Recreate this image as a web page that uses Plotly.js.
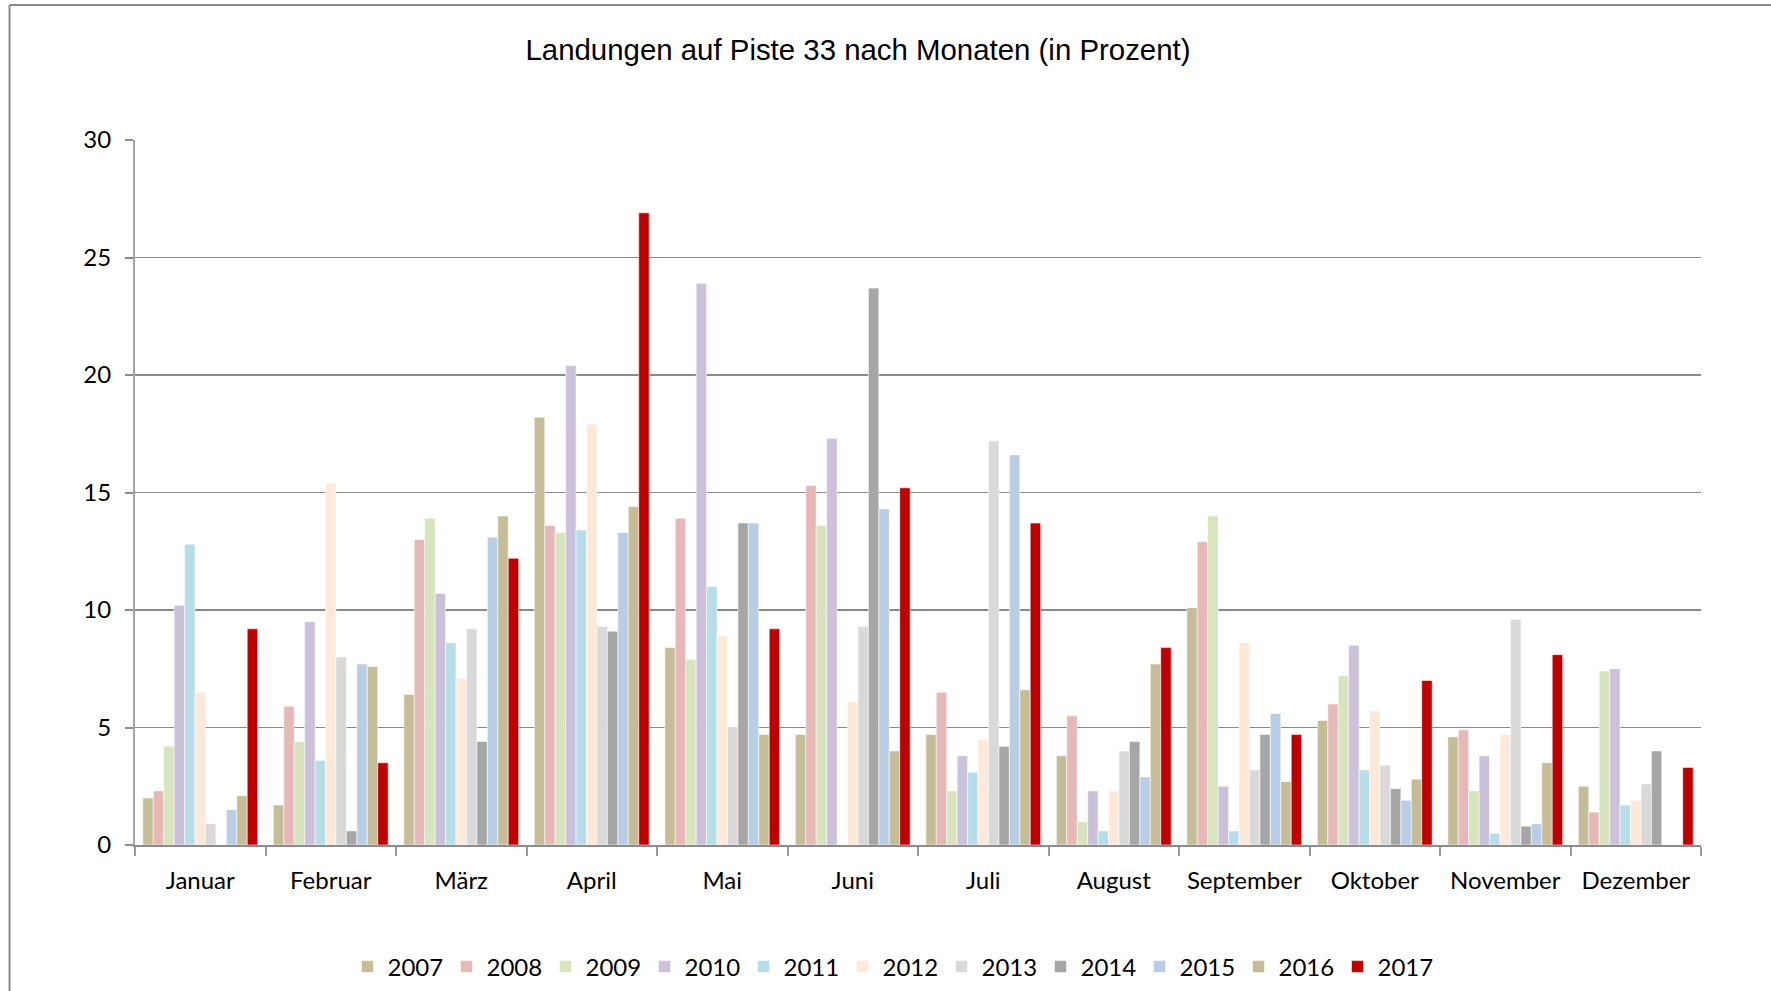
<!DOCTYPE html>
<html>
<head>
<meta charset="utf-8">
<script src="https://cdn.plot.ly/plotly-3.0.1.min.js"></script>
<style>
html,body{margin:0;padding:0;background:#fff;}
#chart{width:1771px;height:991px;}
</style>
</head>
<body>
<div id="chart"></div>
<script>
var months = ["Januar","Februar","März","April","Mai","Juni","Juli","August","September","Oktober","November","Dezember"];
var years = ["2007","2008","2009","2010","2011","2012","2013","2014","2015","2016","2017"];

var v2007 = [2.0, 1.7, 6.4, 18.2, 8.4, 4.7, 4.7, 3.8, 10.1, 5.3, 4.6, 2.5];
var v2008 = [2.3, 5.9, 13.0, 13.6, 13.9, 15.3, 6.5, 5.5, 12.9, 6.0, 4.9, 1.4];
var v2009 = [4.2, 4.4, 13.9, 13.3, 7.9, 13.6, 2.3, 1.0, 14.0, 7.2, 2.3, 7.4];
var v2010 = [10.2, 9.5, 10.7, 20.4, 23.9, 17.3, 3.8, 2.3, 2.5, 8.5, 3.8, 7.5];
var v2011 = [12.8, 3.6, 8.6, 13.4, 11.0, 0, 3.1, 0.6, 0.6, 3.2, 0.5, 1.7];
var v2012 = [6.5, 15.4, 7.1, 17.9, 8.9, 6.1, 4.5, 2.3, 8.6, 5.7, 4.7, 1.9];
var v2013 = [0.9, 8.0, 9.2, 9.3, 5.0, 9.3, 17.2, 4.0, 3.2, 3.4, 9.6, 2.6];
var v2014 = [0, 0.6, 4.4, 9.1, 13.7, 23.7, 4.2, 4.4, 4.7, 2.4, 0.8, 4.0];
var v2015 = [1.5, 7.7, 13.1, 13.3, 13.7, 14.3, 16.6, 2.9, 5.6, 1.9, 0.9, 0];
var v2016 = [2.1, 7.6, 14.0, 14.4, 4.7, 4.0, 6.6, 7.7, 2.7, 2.8, 3.5, 0];
var v2017 = [9.2, 3.5, 12.2, 26.9, 9.2, 15.2, 13.7, 8.4, 4.7, 7.0, 8.1, 3.3];

var seriesValues = [v2007, v2008, v2009, v2010, v2011, v2012, v2013, v2014, v2015, v2016, v2017];
var colors = ["#C4BD97","#E6B9B8","#D7E4BD","#CCC1DA","#B7DEE8","#FDE9D9","#D9D9D9","#A6A6A6","#B9CDE5","#C4BD97","#C00000"];
var yTicks = [0, 5, 10, 15, 20, 25, 30];

var traces = years.map(function(yr, i){
  return {
    type: "bar",
    name: yr,
    x: months,
    y: seriesValues[i],
    marker: {color: colors[i], line: {color: "rgba(255,255,255,0.55)", width: 1}},
    hoverinfo: "none"
  };
});

var L = 135, R = 1701, T = 140, B = 845, W = 1771, H = 991;
function px(x){ return (x - L) / (R - L); }
function py(y){ return (B - y) / (B - T); }

var layout = {
  width: W, height: H,
  margin: {l: L, r: W - R, t: T, b: H - B, pad: 0, autoexpand: false},
  paper_bgcolor: "#ffffff",
  plot_bgcolor: "#ffffff",
  barmode: "group",
  bargap: 0.12,
  bargroupgap: 0,
  showlegend: true,
  title: {
    text: "Landungen auf Piste 33 nach Monaten (in Prozent)",
    font: {family: "Liberation Sans, Arial, sans-serif", size: 29.4, color: "#000000"},
    x: 858 / W, xanchor: "center", xref: "container",
    y: 1 - 50 / H, yanchor: "middle", yref: "container"
  },
  xaxis: {
    type: "category",
    tickson: "boundaries",
    ticks: "outside",
    ticklen: 9,
    tickwidth: 2,
    tickcolor: "#9A9A9A",
    showline: true,
    linecolor: "#8C8C8C",
    linewidth: 2,
    showgrid: false,
    zeroline: false,
    tickfont: {family: "Lato, Open Sans, sans-serif", size: 24, color: "#000000"},
    ticklabelstandoff: 13,
    fixedrange: true
  },
  yaxis: {
    range: [0, 30],
    tickvals: yTicks,
    ticktext: yTicks.map(String),
    ticks: "outside",
    ticklen: 8,
    tickwidth: 2,
    tickcolor: "#8C8C8C",
    showline: true,
    linecolor: "#A6A6A6",
    linewidth: 2,
    showgrid: true,
    gridcolor: "#8A8A8A",
    gridwidth: 1.8,
    zeroline: false,
    tickfont: {family: "Lato, Open Sans, sans-serif", size: 24, color: "#000000"},
    ticklabelstandoff: 9,
    fixedrange: true
  },
  legend: {
    orientation: "h",
    x: px(892), xanchor: "center",
    y: py(967), yanchor: "middle",
    font: {family: "Lato, Open Sans, sans-serif", size: 24, color: "#000000"},
    entrywidth: 54,
    entrywidthmode: "pixels",
    itemclick: false,
    itemdoubleclick: false,
    bgcolor: "rgba(0,0,0,0)"
  },
  shapes: [
    {type: "line", xref: "paper", yref: "paper", x0: px(9.5), x1: px(1771), y0: py(5), y1: py(5), line: {color: "#8A8A8A", width: 2}},
    {type: "line", xref: "paper", yref: "paper", x0: px(9.5), x1: px(9.5), y0: py(5), y1: py(991), line: {color: "#8A8A8A", width: 2}}
  ]
};

Plotly.newPlot("chart", traces, layout, {displayModeBar: false, staticPlot: true});
</script>
</body>
</html>
